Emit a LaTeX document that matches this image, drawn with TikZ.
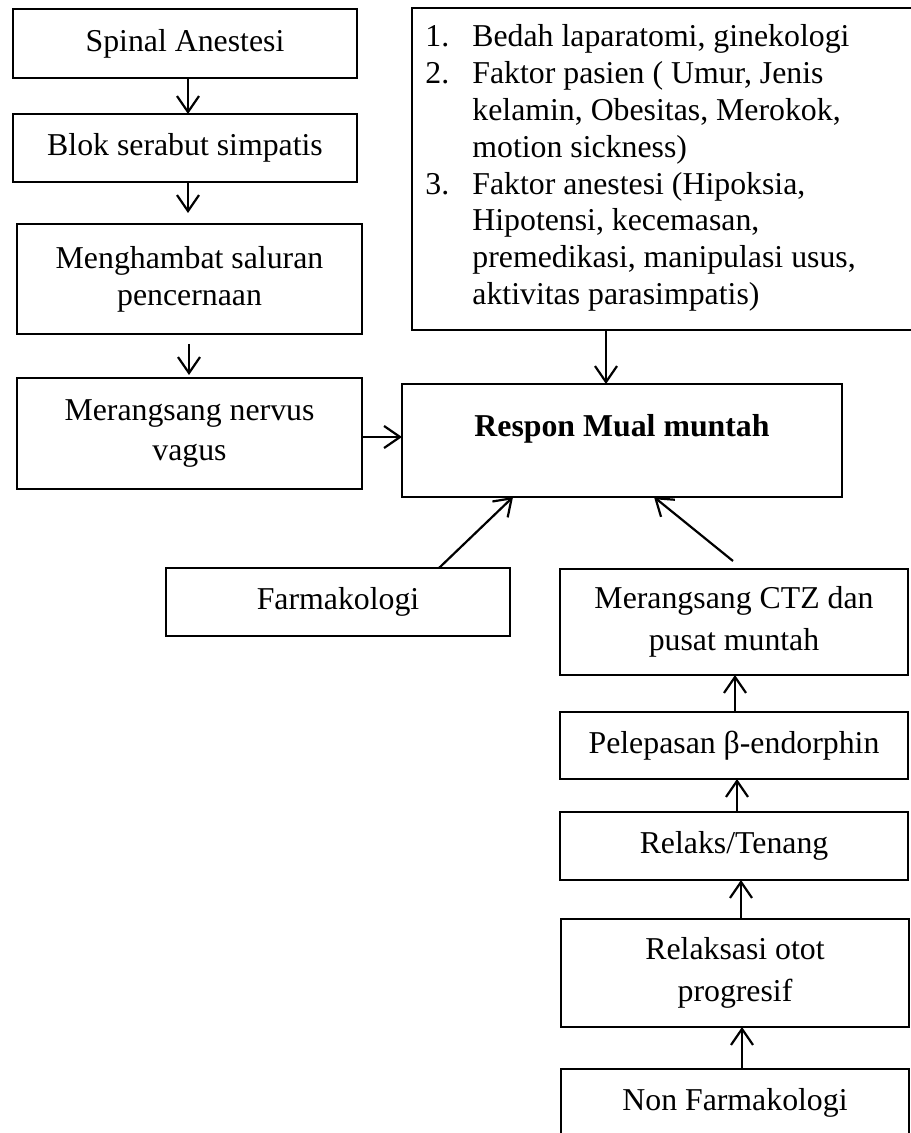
\documentclass[tikz,border=0pt]{standalone}
\usepackage{fontspec}
\setmainfont{Liberation Serif}
\usetikzlibrary{calc,arrows.meta}
\begin{document}
\begin{tikzpicture}[x=0.5pt,y=-0.5pt,
  box/.style={draw, line width=1.3pt, inner sep=0pt, outer sep=0pt, align=center,
    font=\fontsize{15.9}{18.4}\selectfont},
  arr/.style={line width=1.1pt, -{Straight Barb[length=8pt,width=11pt,line width=1.1pt]}}]
\useasboundingbox (0,0) rectangle (910,1133);
% left column
\node[box, minimum width=172pt, minimum height=34.5pt] (spinal) at (185,43.5) {Spinal Anestesi};
\node[box, minimum width=172pt, minimum height=34pt] (blok) at (185,148) {Blok serabut simpatis};
\node[box, minimum width=172.5pt, minimum height=55pt] (hambat) at (189.5,279) {Menghambat saluran\\pencernaan};
\node[box, minimum width=172.5pt, minimum height=55.5pt, font=\fontsize{15.9}{20}\selectfont] (vagus) at (189.5,433.5) {Merangsang nervus\\vagus};
% factors list
\node[box, anchor=north west, minimum width=259pt, minimum height=161pt] (factors) at (412,8) {};
\node[anchor=base west, inner sep=0pt, font=\fontsize{15.9}{18.4}\selectfont] (factorstext) at (425,47)
{\begin{tabular}[t]{@{}p{23.5pt}@{}l@{}}
1. & Bedah laparatomi, ginekologi\\
2. & Faktor pasien ( Umur, Jenis\\
   & kelamin, Obesitas, Merokok,\\
   & motion sickness)\\
3. & Faktor anestesi (Hipoksia,\\
   & Hipotensi, kecemasan,\\
   & premedikasi, manipulasi usus,\\
   & aktivitas parasimpatis)
\end{tabular}};
% center
\node[box, minimum width=220pt, minimum height=56.5pt] (respon) at (622,440.5) {};
\node[anchor=base, inner sep=0pt, font=\fontsize{15.9}{18.4}\selectfont\bfseries] (respontext) at (622,437) {Respon Mual muntah};
\node[box, minimum width=172pt, minimum height=34pt] (farma) at (338,602) {Farmakologi};
% right column
\node[box, minimum width=174pt, minimum height=53pt, font=\fontsize{15.9}{21}\selectfont] (ctz) at (734,622) {Merangsang CTZ dan\\pusat muntah};
\node[box, minimum width=174pt, minimum height=33.5pt] (pel) at (734,745.5) {Pelepasan β-endorphin};
\node[box, minimum width=174pt, minimum height=34pt] (relaks) at (734,846) {Relaks/Tenang};
\node[box, minimum width=174pt, minimum height=54pt, font=\fontsize{15.9}{21}\selectfont] (relaksasi) at (735,973) {Relaksasi otot\\progresif};
\node[box, minimum width=174pt, minimum height=34pt] (non) at (735,1103) {Non Farmakologi};
% arrows
\draw[arr] ($(spinal.south west)+(175,0)$) -- ($(blok.north west)+(175,0)$);
\draw[arr] ($(blok.south west)+(175,0)$) -- ($(hambat.north west)+(171,-11)$);
\draw[arr] ($(hambat.south west)+(172,10)$) -- ($(vagus.north west)+(172,-3)$);
\draw[arr] ($(vagus.south east)+(0,-52)$) -- ($(respon.south west)+(0,-60)$);
\draw[arr] ($(factors.south west)+(194,0)$) -- ($(respon.north west)+(204,0)$);
\draw[arr] ($(farma.north west)+(273,0)$) -- ($(respon.south west)+(111,0)$);
\draw[arr] ($(ctz.north west)+(173,-8)$) -- ($(respon.south west)+(252,0)$);
\draw[arr] ($(pel.north west)+(175,0)$) -- ($(ctz.south west)+(175,0)$);
\draw[arr] ($(relaks.north west)+(177,0)$) -- ($(pel.south west)+(177,0)$);
\draw[arr] ($(relaksasi.north west)+(180,0)$) -- ($(relaks.south west)+(181,0)$);
\draw[arr] ($(non.north west)+(181,0)$) -- ($(relaksasi.south west)+(181,0)$);
\end{tikzpicture}
\end{document}
